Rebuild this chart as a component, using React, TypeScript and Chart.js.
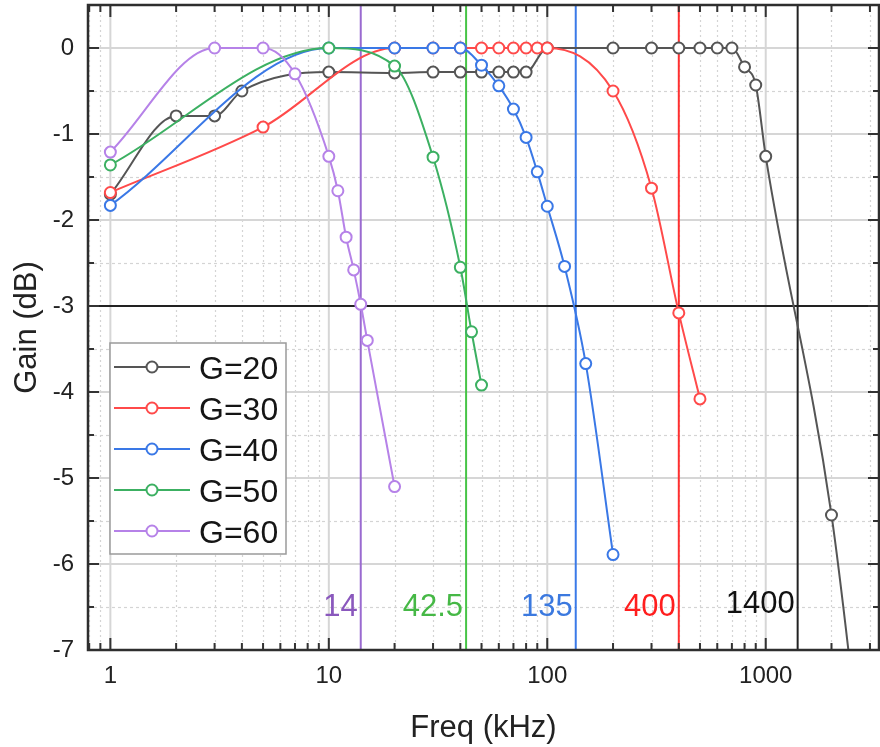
import React, { useEffect, useRef } from 'react';
import { Chart, registerables } from 'chart.js';
Chart.register(...registerables);

const FONT = "'Liberation Sans', Arial, Helvetica, sans-serif";

const seriesNames = ['G=20', 'G=30', 'G=40', 'G=50', 'G=60'];
const seriesColors = ['#555555', '#ff4a4a', '#3a78e6', '#3cb062', '#b682e8'];

const freqG20 = [1, 2, 3, 4, 10, 20, 30, 40, 50, 60, 70, 80, 100, 200, 300, 400, 500, 600, 700, 800, 900, 1000, 2000, 3000];
const gainG20 = [-1.7, -0.79, -0.79, -0.5, -0.28, -0.29, -0.28, -0.28, -0.28, -0.28, -0.28, -0.28, 0, 0, 0, 0, 0, 0, 0, -0.22, -0.43, -1.26, -5.43, -9.2];

const freqG30 = [1, 5, 20, 30, 40, 50, 60, 70, 80, 90, 100, 200, 300, 400, 500];
const gainG30 = [-1.68, -0.92, 0, 0, 0, 0, 0, 0, 0, 0, 0, -0.5, -1.63, -3.08, -4.08];

const freqG40 = [1, 10, 20, 30, 40, 50, 60, 70, 80, 90, 100, 120, 150, 200];
const gainG40 = [-1.83, 0, 0, 0, 0, -0.2, -0.44, -0.71, -1.04, -1.44, -1.84, -2.54, -3.67, -5.89];

const freqG50 = [1, 10, 20, 30, 40, 45, 50];
const gainG50 = [-1.36, 0, -0.21, -1.27, -2.55, -3.3, -3.92];

const freqG60 = [1, 3, 5, 7, 10, 11, 12, 13, 14, 15, 20];
const gainG60 = [-1.21, 0, 0, -0.3, -1.26, -1.66, -2.2, -2.58, -2.98, -3.4, -5.1];

const seriesFreqs = [freqG20, freqG30, freqG40, freqG50, freqG60];
const seriesGains = [gainG20, gainG30, gainG40, gainG50, gainG60];

const cutoffFreqs = [14, 42.5, 135, 400, 1400];
const cutoffLabels = ['14', '42.5', '135', '400', '1400'];
const cutoffLineColors = ['#9a6ad0', '#46c446', '#3a7ae8', '#ff3030', '#222222'];
const cutoffTextColors = ['#8a58bd', '#46b846', '#3b79df', '#ff1e1e', '#111111'];
const cutoffGain = -3;

const xMajorTicks = [1, 10, 100, 1000];
const yMajorTicks = [0, -1, -2, -3, -4, -5, -6, -7];

const X_MIN = 0.79;
const X_MAX = 3300;
const Y_MIN = -7;
const Y_MAX = 0.5;

const decorPlugin = {
  id: 'decor',
  beforeDatasetsDraw(chart: any) {
    const { ctx, chartArea: a, scales } = chart;
    const x = scales.x;
    const y = scales.y;
    ctx.save();
    ctx.beginPath();
    ctx.rect(a.left, a.top, a.right - a.left, a.bottom - a.top);
    ctx.clip();

    // minor vertical grid (dotted)
    ctx.setLineDash([2, 3]);
    ctx.strokeStyle = '#d4d4d4';
    ctx.lineWidth = 1.2;
    for (const d of [0.1, 1, 10, 100, 1000]) {
      for (let k = 2; k <= 9; k++) {
        const v = k * d;
        if (v < X_MIN || v > X_MAX) continue;
        const px = Math.round(x.getPixelForValue(v)) + 0.5;
        ctx.beginPath();
        ctx.moveTo(px, a.top);
        ctx.lineTo(px, a.bottom);
        ctx.stroke();
      }
    }
    // minor horizontal grid (dashed)
    ctx.setLineDash([3, 3]);
    for (let v = -6.5; v <= 0; v += 1) {
      const py = Math.round(y.getPixelForValue(v)) + 0.5;
      ctx.beginPath();
      ctx.moveTo(a.left, py);
      ctx.lineTo(a.right, py);
      ctx.stroke();
    }
    // major grid
    ctx.setLineDash([]);
    ctx.strokeStyle = '#d6d6d6';
    ctx.lineWidth = 2;
    for (const v of xMajorTicks) {
      const px = x.getPixelForValue(v);
      ctx.beginPath();
      ctx.moveTo(px, a.top);
      ctx.lineTo(px, a.bottom);
      ctx.stroke();
    }
    for (const v of yMajorTicks) {
      const py = y.getPixelForValue(v);
      ctx.beginPath();
      ctx.moveTo(a.left, py);
      ctx.lineTo(a.right, py);
      ctx.stroke();
    }
    // cutoff vertical lines
    cutoffFreqs.forEach((f, i) => {
      const px = x.getPixelForValue(f);
      ctx.strokeStyle = cutoffLineColors[i];
      ctx.lineWidth = 2;
      ctx.beginPath();
      ctx.moveTo(px, a.top);
      ctx.lineTo(px, a.bottom);
      ctx.stroke();
    });
    // -3 dB line
    const p3 = y.getPixelForValue(cutoffGain);
    ctx.strokeStyle = '#222';
    ctx.lineWidth = 2;
    ctx.beginPath();
    ctx.moveTo(a.left, p3);
    ctx.lineTo(a.right, p3);
    ctx.stroke();

    // cutoff labels
    ctx.font = `31px ${FONT}`;
    ctx.textAlign = 'right';
    ctx.textBaseline = 'alphabetic';
    cutoffFreqs.forEach((f, i) => {
      const px = x.getPixelForValue(f);
      ctx.fillStyle = cutoffTextColors[i];
      ctx.fillText(cutoffLabels[i], px - 3, i === 4 ? 613 : 616);
    });
    ctx.restore();
  },
  afterDraw(chart: any) {
    const { ctx, chartArea: a, scales } = chart;
    const x = scales.x;
    const y = scales.y;
    ctx.save();
    ctx.strokeStyle = '#333';
    ctx.lineWidth = 2;
    ctx.setLineDash([]);
    // x ticks (inward, top and bottom)
    for (const d of [0.1, 1, 10, 100, 1000]) {
      for (let k = 1; k <= 9; k++) {
        const v = k * d;
        if (v < X_MIN || v > X_MAX) continue;
        const px = x.getPixelForValue(v);
        const len = k === 1 ? 12 : 7;
        ctx.beginPath();
        ctx.moveTo(px, a.bottom);
        ctx.lineTo(px, a.bottom - len);
        ctx.moveTo(px, a.top);
        ctx.lineTo(px, a.top + len);
        ctx.stroke();
      }
    }
    // y ticks (inward, left and right)
    for (let v = Y_MIN; v <= Y_MAX + 1e-9; v += 0.5) {
      const py = y.getPixelForValue(v);
      const len = Number.isInteger(v) ? 11 : 6;
      ctx.beginPath();
      ctx.moveTo(a.left, py);
      ctx.lineTo(a.left + len, py);
      ctx.moveTo(a.right, py);
      ctx.lineTo(a.right - len, py);
      ctx.stroke();
    }
    // frame
    ctx.lineWidth = 2.5;
    ctx.strokeStyle = '#2e2e2e';
    ctx.strokeRect(a.left, a.top, a.right - a.left, a.bottom - a.top);

    // legend
    const lx = 110, ly = 343, lw = 176, lh = 211;
    ctx.fillStyle = '#ffffff';
    ctx.fillRect(lx, ly, lw, lh);
    ctx.strokeStyle = '#9a9a9a';
    ctx.lineWidth = 1.5;
    ctx.strokeRect(lx, ly, lw, lh);
    ctx.font = `32px ${FONT}`;
    ctx.textAlign = 'left';
    ctx.textBaseline = 'alphabetic';
    seriesNames.forEach((name, i) => {
      const ry = 367 + i * 41;
      ctx.strokeStyle = seriesColors[i];
      ctx.lineWidth = 2;
      ctx.beginPath();
      ctx.moveTo(114, ry);
      ctx.lineTo(190, ry);
      ctx.stroke();
      ctx.beginPath();
      ctx.arc(152, ry, 5.5, 0, Math.PI * 2);
      ctx.fillStyle = '#fff';
      ctx.fill();
      ctx.stroke();
      ctx.fillStyle = '#151515';
      ctx.fillText(name, 199, ry + 11.5);
    });
    ctx.restore();
  },
};

const zeroPad = (s: any) => {
  s.paddingTop = 0;
  s.paddingBottom = 0;
  s.paddingLeft = 0;
  s.paddingRight = 0;
};

export default function App() {
  const ref = useRef<HTMLCanvasElement | null>(null);
  useEffect(() => {
    document.body.style.margin = '0';
    const canvas = ref.current;
    if (!canvas) return;
    const datasets = seriesNames.map((name, i) => ({
      label: name,
      data: seriesFreqs[i].map((f, j) => ({ x: f, y: seriesGains[i][j] })),
      borderColor: seriesColors[i],
      backgroundColor: '#ffffff',
      pointBackgroundColor: '#ffffff',
      pointBorderColor: seriesColors[i],
      pointBorderWidth: 2,
      pointRadius: 5.5,
      borderWidth: 2,
      cubicInterpolationMode: 'monotone' as const,
      fill: false,
      order: 5 - i,
    }));
    const chart = new Chart(canvas, {
      type: 'line',
      data: { datasets },
      plugins: [decorPlugin],
      options: {
        responsive: false,
        animation: false,
        layout: { autoPadding: false, padding: { top: 5, right: 1, left: 0, bottom: 0 } },
        plugins: { legend: { display: false }, tooltip: { enabled: false } },
        scales: {
          x: {
            type: 'logarithmic',
            min: X_MIN,
            max: X_MAX,
            grid: { display: false, drawTicks: false },
            border: { display: false },
            afterFit: (s: any) => { s.height = 97; zeroPad(s); },
            ticks: {
              autoSkip: false,
              maxRotation: 0,
              padding: 12,
              color: '#222',
              font: { family: FONT, size: 24 },
              callback: (v: any) => {
                const n = Number(v);
                return xMajorTicks.some((t) => Math.abs(t - n) < 1e-9) ? String(n) : '';
              },
            },
            title: {
              display: true,
              text: 'Freq (kHz)',
              color: '#222',
              font: { family: FONT, size: 31 },
              padding: { top: 0, bottom: 0 },
            },
          },
          y: {
            type: 'linear',
            min: Y_MIN,
            max: Y_MAX,
            grid: { display: false, drawTicks: false },
            border: { display: false },
            afterFit: (s: any) => { s.width = 88; zeroPad(s); },
            ticks: {
              stepSize: 1,
              padding: 14,
              color: '#222',
              font: { family: FONT, size: 24 },
              callback: (v: any) => {
                const n = Number(v);
                return yMajorTicks.some((t) => Math.abs(t - n) < 1e-9) ? String(n) : '';
              },
            },
            title: {
              display: true,
              text: 'Gain (dB)',
              color: '#222',
              font: { family: FONT, size: 31 },
              padding: { top: 9, bottom: 0 },
            },
          },
        },
      },
    });
    return () => chart.destroy();
  }, []);
  return (
    <div style={{ width: 880, height: 747, background: '#fff' }}>
      <canvas ref={ref} width={880} height={747} style={{ display: 'block' }} />
    </div>
  );
}
